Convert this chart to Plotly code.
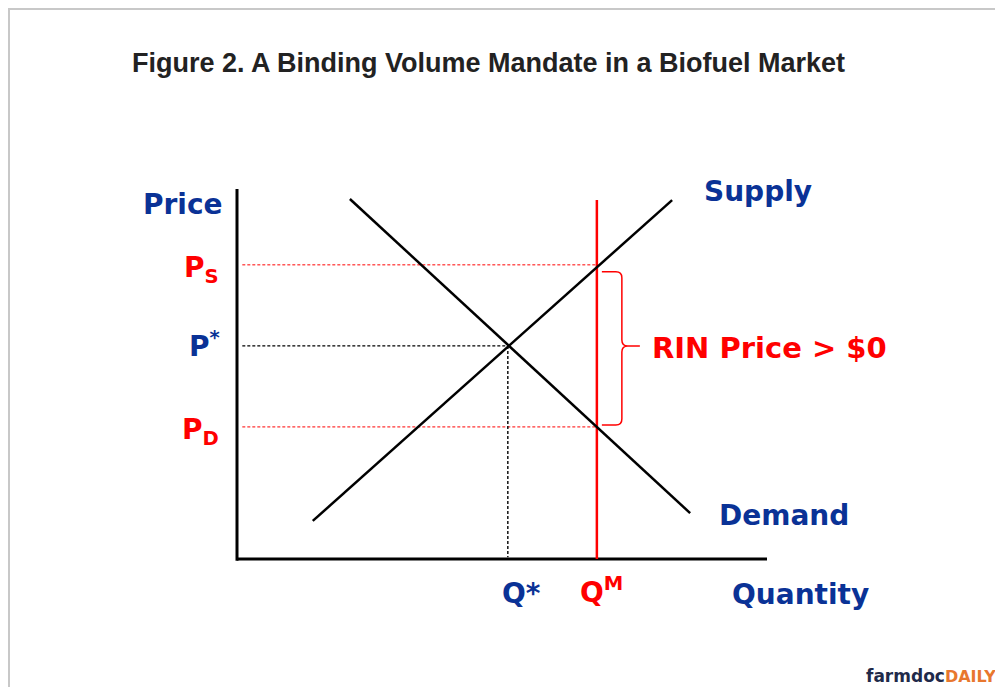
import plotly.graph_objects as go

# ---- data (quantity / price units; axes run 0..10) ----
supply_q = [1.43, 8.21]
supply_p = [1.03, 9.70]
demand_q = [2.13, 8.55]
demand_p = [9.73, 1.24]
axis_max_q = 10.0
axis_max_p = 10.0
Q_star = 5.11
P_star = 5.76
Q_M = 6.79
P_S = 7.95
P_D = 3.57
mandate_top = 9.70

BLUE = "#0a3296"
RED = "#ff0000"
FONT = "DejaVu Sans"

# page offset (body margin) and figure size
OFF = 8
W, H = 1003 - OFF, 687 - OFF
# reference-pixel origin and scale
ox, oy = 237 - OFF, 559 - OFF
sx, sy = 53.0, 37.0

fig = go.Figure()

def line(xs, ys, color, width, dash=None):
    fig.add_trace(go.Scatter(x=xs, y=ys, mode="lines", hoverinfo="skip",
                             line=dict(color=color, width=width, dash=dash),
                             showlegend=False))

# axes
line([0, 0], [axis_max_p, -0.05], "black", 3)
line([0, axis_max_q], [0, 0], "black", 3)

# guide lines
line([0.1, Q_M], [P_S, P_S], RED, 1, "3px,2px")
line([0.1, Q_M], [P_D, P_D], RED, 1, "3px,2px")
line([0.1, Q_star], [P_star, P_star], "black", 1.4, "3px,2px")
line([Q_star, Q_star], [P_star, 0.05], "black", 1.4, "3px,2px")

# mandate
line([Q_M, Q_M], [0, mandate_top], RED, 2.5)

# supply & demand
line(supply_q, supply_p, "black", 2.5)
line(demand_q, demand_p, "black", 2.5)

# curly brace from P_S to P_D next to Q_M
bx0 = Q_M + 5 / sx
bx1 = Q_M + 25 / sx
btip = Q_M + 43 / sx
rx, ry = 6 / sx, 6 / sy
ytop = P_S - 7 / sy
ybot = P_D + 2 / sy
ymid = P_star
path = (f"M {bx0},{ytop} L {bx1-rx},{ytop} Q {bx1},{ytop} {bx1},{ytop-ry} "
        f"L {bx1},{ymid+ry} Q {bx1},{ymid} {bx1+rx},{ymid} L {btip},{ymid} "
        f"M {bx1+rx},{ymid} Q {bx1},{ymid} {bx1},{ymid-ry} "
        f"L {bx1},{ybot+ry} Q {bx1},{ybot} {bx1-rx},{ybot} L {bx0},{ybot}")
fig.add_shape(type="path", path=path, xref="x", yref="y",
              line=dict(color=RED, width=1.5))

def px_x(p):
    return (p - OFF - ox) / sx

def px_y(p):
    return (oy - (p - OFF)) / sy

def label(text, x, y, color, xanchor="center", size=28):
    fig.add_annotation(text=text, x=x, y=y, xref="x", yref="y", showarrow=False,
                       xanchor=xanchor, yanchor="middle",
                       font=dict(family=FONT, size=size, color=color))

label("<b>Price</b>", px_x(225), px_y(204), BLUE, "right")
label("<b>P<sub>S</sub></b>", px_x(221), P_S - 5 / sy, RED, "right")
label("<b>P<sup>*</sup></b>", px_x(222), P_star + 1 / sy, BLUE, "right")
label("<b>P<sub>D</sub></b>", px_x(221), P_D - 5 / sy, RED, "right")
label("<b>Q*</b>", Q_star + 14 / sx, px_y(593), BLUE)
label("<b>Q<sup>M</sup></b>", Q_M + 5 / sx, px_y(590), RED)
label("<b>Quantity</b>", px_x(800), px_y(594), BLUE)
label("<b>Supply</b>", px_x(758), px_y(191), BLUE)
label("<b>Demand</b>", px_x(784), px_y(515), BLUE)
label("<b>RIN Price &gt; $0</b>", btip + 10 / sx, P_star - 2 / sy, RED, "left", 29)

# title
fig.add_annotation(text="<b>Figure 2. A Binding Volume Mandate in a Biofuel Market</b>",
                   x=(488 - OFF) / W, y=1 - (63 - OFF) / H, xref="paper", yref="paper",
                   showarrow=False, xanchor="center", yanchor="middle",
                   font=dict(family="Liberation Sans", size=27, color="#222222"))

# logo
fig.add_annotation(text="<b>farmdoc</b><span style='color:#e8772e;font-size:16px'><b>DAILY</b></span>",
                   x=(998 - OFF) / W, y=1 - (676 - OFF) / H, xref="paper", yref="paper",
                   showarrow=False, xanchor="right", yanchor="middle",
                   font=dict(family=FONT, size=17, color="#1f2a4a"))

# frame
fig.add_shape(type="line", xref="paper", yref="paper", x0=0, x1=1, y0=1 - 1 / H, y1=1 - 1 / H,
              line=dict(color="#c8c8c8", width=2))
fig.add_shape(type="line", xref="paper", yref="paper", x0=1 / W, x1=1 / W, y0=0, y1=1,
              line=dict(color="#c8c8c8", width=2))

fig.update_xaxes(range=[-ox / sx, (W - ox) / sx], visible=False, fixedrange=True)
fig.update_yaxes(range=[-(H - oy) / sy, oy / sy], visible=False, fixedrange=True)
fig.update_layout(width=W, height=H, margin=dict(l=0, r=0, t=0, b=0),
                  plot_bgcolor="white", paper_bgcolor="white")

fig.write_html("out.html")
